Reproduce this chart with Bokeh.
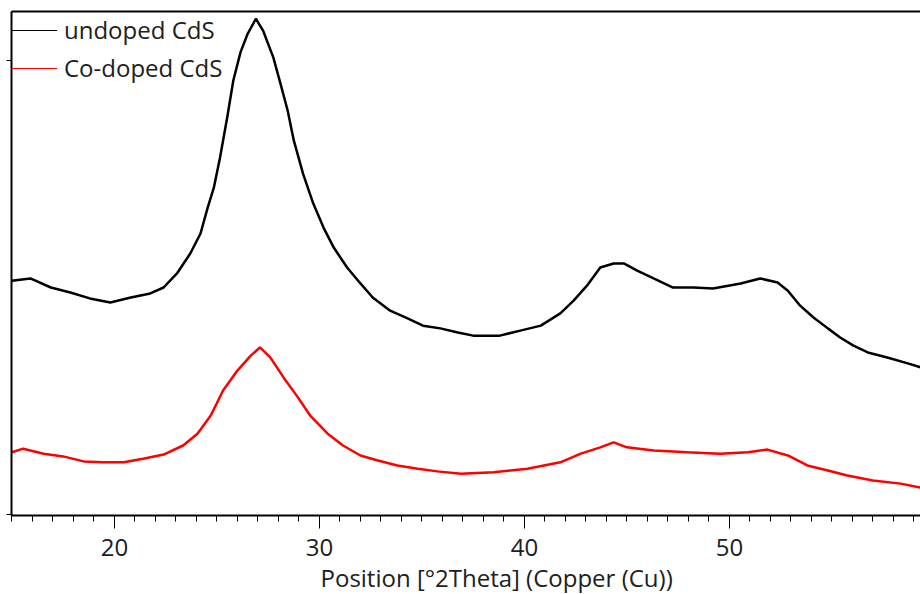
from bokeh.plotting import figure
from bokeh.models import Range1d, LinearAxis, FixedTicker, Legend, LegendItem, Title
from bokeh.embed import file_html
from bokeh.resources import INLINE

# Undoped CdS (2theta in degrees, intensity in arbitrary counts)
undoped_theta = [15.0, 15.9, 16.9, 17.85, 18.8, 19.8, 20.8, 21.75, 22.4, 23.05, 23.7, 24.2, 24.55,
                 24.85, 25.15, 25.5, 25.8, 26.15, 26.5, 26.9, 27.25, 27.75, 28.1, 28.45, 28.75,
                 29.2, 29.7, 30.2, 30.7, 31.35, 32.0, 32.6, 33.45, 34.3, 35.05, 35.9, 36.75,
                 37.5, 38.8, 39.8, 40.8, 41.75, 42.4, 43.05, 43.7, 44.35, 44.85, 45.5, 46.3,
                 47.25, 48.25, 49.2, 50.55, 51.5, 52.35, 52.85, 53.45, 54.1, 54.8, 55.4, 56.05,
                 56.75, 57.7, 58.7, 59.35]
undoped_counts = [515, 520, 500, 489, 476, 467, 478, 487, 500, 531, 575, 619, 676,
                  720, 786, 874, 956, 1018, 1059, 1092, 1066, 1007, 949, 890, 824,
                  751, 685, 632, 588, 544, 509, 478, 449, 432, 416, 410, 401,
                  394, 394, 405, 416, 443, 471, 504, 544, 553, 553, 537, 520,
                  500, 500, 498, 509, 520, 511, 493, 460, 434, 410, 390, 372,
                  357, 346, 333, 324]

# Co-doped CdS
codoped_theta = [15.0, 15.55, 16.55, 17.5, 18.5, 19.45, 20.45, 21.4, 22.4, 23.35, 24.05, 24.7,
                 25.3, 26.0, 26.65, 27.1, 27.6, 28.25, 28.95, 29.55, 30.4, 31.15, 32.0, 32.85,
                 33.8, 34.8, 35.75, 36.9, 38.5, 40.15, 41.75, 42.75, 43.7, 44.35, 45.0, 46.3,
                 47.95, 49.55, 50.9, 51.85, 52.85, 53.8, 54.8, 55.75, 57.0, 58.35, 59.35]
codoped_counts = [137, 145, 134, 128, 117, 115, 115, 123, 132, 152, 178, 218,
                  273, 317, 350, 368, 346, 302, 258, 218, 178, 152, 130, 119,
                  108, 101, 95, 90, 93, 101, 115, 134, 148, 159, 148, 141,
                  137, 134, 137, 143, 130, 108, 97, 86, 75, 68, 59]

x_major_ticks = [20, 30, 40, 50]
y_ticks = [0, 1000]

legend_labels = ["undoped CdS", "Co-doped CdS"]
x_label = "Position [°2Theta] (Copper (Cu))"

FONT = "Open Sans"
TXT = "#202020"

p = figure(width=920, height=594, output_backend="svg", toolbar_location=None,
           x_range=Range1d(14.98, 59.32), y_range=Range1d(-2.2, 1108),
           x_axis_location=None, y_axis_location=None,
           min_border_left=11, min_border_right=0, min_border_top=11, min_border_bottom=79)
p.grid.visible = False
p.outline_line_color = None
p.background_fill_color = "white"
p.border_fill_color = "white"

# bottom axis
xa = LinearAxis(ticker=FixedTicker(ticks=x_major_ticks,
                                   minor_ticks=list(range(15, 60))))
xa.axis_line_width = 2
xa.axis_line_color = "black"
xa.major_tick_in = 0
xa.major_tick_out = 13
xa.minor_tick_in = 0
xa.minor_tick_out = 6
xa.major_tick_line_color = "black"
xa.minor_tick_line_color = "black"
xa.major_label_text_font = FONT
xa.major_label_text_font_size = "24px"
xa.major_label_text_color = TXT
xa.major_label_standoff = 10
p.add_layout(xa, "below")

# x axis title (offset to the right, as in the reference)
xt = Title(text=x_label, align="left", offset=309,
           text_font=FONT, text_font_size="24px", text_font_style="normal",
           text_color=TXT, standoff=0)
p.add_layout(xt, "below")

# left axis (no labels)
ya = LinearAxis(ticker=FixedTicker(ticks=y_ticks, minor_ticks=[]))
ya.axis_line_width = 2
ya.axis_line_color = "black"
ya.major_tick_in = 0
ya.major_tick_out = 5
ya.minor_tick_out = 0
ya.minor_tick_in = 0
ya.major_label_overrides = {0: "", 1000: ""}
ya.major_label_standoff = 0
ya.major_label_text_font_size = "0px"
p.add_layout(ya, "left")

# top border line
ta = LinearAxis(ticker=FixedTicker(ticks=[]))
ta.axis_line_width = 2
ta.axis_line_color = "black"
ta.major_tick_out = 0
ta.major_tick_in = 0
ta.minor_tick_out = 0
ta.minor_tick_in = 0
ta.major_label_text_font_size = "0px"
ta.major_label_standoff = 0
p.add_layout(ta, "above")

# thin copies used only for the legend swatches (hidden under the thick lines)
l1 = p.line(undoped_theta, undoped_counts, line_color="black", line_width=1)
l2 = p.line(codoped_theta, codoped_counts, line_color="#ff0000", line_width=1)
r1 = p.line(undoped_theta, undoped_counts, line_color="black", line_width=2.5)
r2 = p.line(codoped_theta, codoped_counts, line_color="#ff0000", line_width=2.5)

legend = Legend(items=[LegendItem(label=legend_labels[0], renderers=[l1]),
                       LegendItem(label=legend_labels[1], renderers=[l2])],
                location=(0, 431), orientation="vertical")
legend.background_fill_alpha = 0
legend.border_line_color = None
legend.padding = 0
legend.margin = 0
legend.glyph_width = 46
legend.glyph_height = 28
legend.label_height = 28
legend.spacing = 5
legend.label_standoff = 7
legend.label_text_font = FONT
legend.label_text_font_size = "24px"
legend.label_text_color = TXT
p.add_layout(legend, "center")

open("out.html", "w").write(file_html(p, INLINE))
